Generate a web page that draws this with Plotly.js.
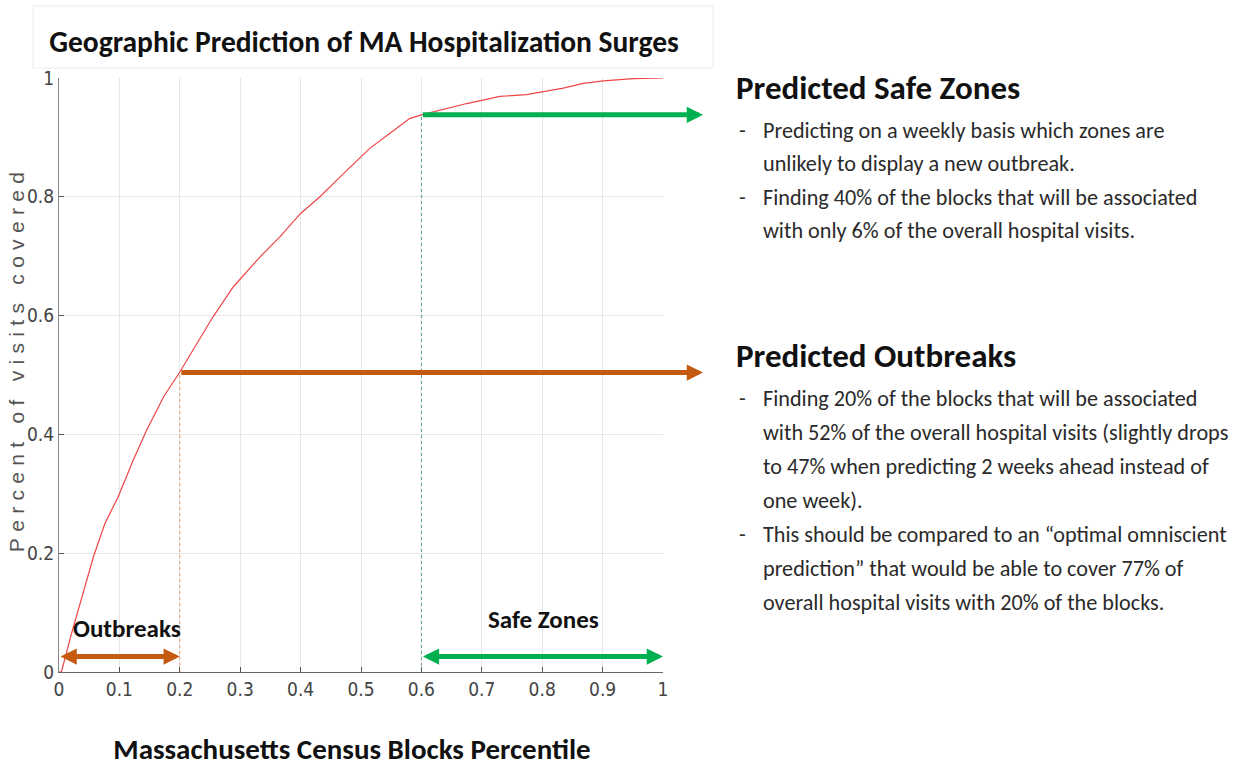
<!DOCTYPE html>
<html><head><meta charset="utf-8">
<script src="https://cdn.plot.ly/plotly-3.0.1.min.js"></script>
<style>
html,body{margin:0;padding:0;background:#fff;}
#chart{width:1243px;height:767px;}
.ytitle{letter-spacing:6.3px;}
</style></head><body><div id="chart"></div>
<script>
// ---- data ----
const blockPercentile = [0, 0.004, 0.02, 0.037, 0.057, 0.076, 0.098, 0.123, 0.145, 0.173, 0.2, 0.255, 0.289, 0.333, 0.366, 0.4, 0.432, 0.471, 0.515, 0.548, 0.581, 0.6, 0.628, 0.675, 0.73, 0.774, 0.802, 0.835, 0.868, 0.901, 0.951, 1.0];
const visitsCovered  = [0, 0.0, 0.062, 0.121, 0.194, 0.25, 0.295, 0.357, 0.407, 0.463, 0.505, 0.598, 0.649, 0.699, 0.733, 0.772, 0.80, 0.839, 0.882, 0.907, 0.932, 0.938, 0.945, 0.957, 0.969, 0.972, 0.977, 0.983, 0.991, 0.995, 0.999, 1.0];
const cutoffX = [0.2, 0.6];          // outbreaks cut, safe zones cut
const cutoffY = [0.504, 0.938];
const xTickVals = [0, 0.1, 0.2, 0.3, 0.4, 0.5, 0.6, 0.7, 0.8, 0.9, 1];
const xTickText = ['0', '0.1', '0.2', '0.3', '0.4', '0.5', '0.6', '0.7', '0.8', '0.9', '1'];
const yTickVals = [0, 0.2, 0.4, 0.6, 0.8, 1];
const yTickText = ['0', '0.2', '0.4', '0.6', '0.8', '1'];
const zoneLabels = ['Outbreaks', 'Safe Zones'];
const headers = ['Predicted Safe Zones', 'Predicted Outbreaks'];
const safeLines = ['Predicting on a weekly basis which zones are', 'unlikely to display a new outbreak.', 'Finding 40% of the blocks that will be associated', 'with only 6% of the overall hospital visits.'];
const safeBullets = [true, false, true, false];
const outbreakLines = ['Finding 20% of the blocks that will be associated', 'with 52% of the overall hospital visits (slightly drops', 'to 47% when predicting 2 weeks ahead instead of', 'one week).', 'This should be compared to an \u201coptimal omniscient', 'prediction\u201d that would be able to cover 77% of', 'overall hospital visits with 20% of the blocks.'];
const outbreakBullets = [true, false, false, false, true, false, false];

// ---- layout helpers (pixel -> paper) ----
const L = 59, R = 663, T = 78, B = 672;
const px2x = p => (p - L) / (R - L);
const py2y = p => (B - p) / (B - T);
const ORANGE = '#c55a11', GREEN = '#00b050';
const BODY = 'Carlito, Lato, "Open Sans", sans-serif';
const NARROW = '"Liberation Sans Narrow", "DejaVu Sans Condensed", "Liberation Sans", sans-serif';

const traces = [
  {x: blockPercentile, y: visitsCovered, type: 'scatter', mode: 'lines',
   line: {color: '#f04545', width: 1.2}, hoverinfo: 'skip'},
  {x: [cutoffX[0], cutoffX[0]], y: [0, cutoffY[0]], type: 'scatter', mode: 'lines',
   line: {color: '#f0a070', width: 1, dash: 'dot'}, hoverinfo: 'skip'},
  {x: [cutoffX[1], cutoffX[1]], y: [0, cutoffY[1]], type: 'scatter', mode: 'lines',
   line: {color: '#5f9ea3', width: 1, dash: 'dot'}, hoverinfo: 'skip'}
];

const arrowTip = px2x(703);
const ann = [];
function arrow(x0, y0, x1, y1, color, both) {
  ann.push({x: x1, y: y1, ax: x0, ay: y0, xref: 'x', yref: 'y', axref: 'x', ayref: 'y',
    text: '', showarrow: true, arrowhead: 2, arrowsize: 0.65, arrowwidth: 5, arrowcolor: color,
    arrowside: both ? 'end+start' : 'end', startarrowhead: 2, startarrowsize: 0.65, standoff: 0, startstandoff: 0});
}
arrow(cutoffX[0], cutoffY[0], arrowTip, cutoffY[0], ORANGE, false);
arrow(cutoffX[1], cutoffY[1], arrowTip, cutoffY[1], GREEN, false);
arrow(0, 0.026, cutoffX[0], 0.026, ORANGE, true);
arrow(cutoffX[1], 0.026, 1, 0.026, GREEN, true);

ann.push({x: px2x(127), y: py2y(628), xref: 'paper', yref: 'paper', text: zoneLabels[0], showarrow: false,
  font: {family: BODY, size: 25, color: '#111', weight: 'bold'}, xanchor: 'center', yanchor: 'middle'});
ann.push({x: px2x(543), y: py2y(619), xref: 'paper', yref: 'paper', text: zoneLabels[1], showarrow: false,
  font: {family: BODY, size: 25, color: '#111', weight: 'bold'}, xanchor: 'center', yanchor: 'middle'});

function header(txt, py) {
  ann.push({x: px2x(734), y: py2y(py), xref: 'paper', yref: 'paper', text: txt, showarrow: false,
    font: {family: BODY, size: 33, color: '#111', weight: 'bold'}, xanchor: 'left', yanchor: 'middle'});
}
function lines(arr, bullets, py0, step) {
  arr.forEach((t, i) => {
    const py = py0 + step * i;
    if (bullets[i]) ann.push({x: px2x(737), y: py2y(py), xref: 'paper', yref: 'paper', text: '-', showarrow: false,
      font: {family: BODY, size: 22, color: '#333'}, xanchor: 'left', yanchor: 'middle'});
    ann.push({x: px2x(761), y: py2y(py), xref: 'paper', yref: 'paper', text: t, showarrow: false,
      font: {family: BODY, size: 22.2, color: '#2a2a2a'}, xanchor: 'left', yanchor: 'middle'});
  });
}
header(headers[0], 88);
lines(safeLines, safeBullets, 130, 33.5);
header(headers[1], 356);
lines(outbreakLines, outbreakBullets, 398, 34.1);

const layout = {
  width: 1243, height: 767,
  margin: {l: L, r: 1243 - R, t: T, b: 767 - B},
  paper_bgcolor: '#fff', plot_bgcolor: '#fff',
  showlegend: false,
  title: {text: 'Geographic Prediction of MA Hospitalization Surges', xref: 'container', yref: 'container',
    x: 364 / 1243, y: 1 - 42 / 767, xanchor: 'center', yanchor: 'middle',
    font: {family: BODY, size: 29.5, color: '#111', weight: 'bold'}},
  xaxis: {range: [0, 1], tickvals: xTickVals, ticktext: xTickText, ticks: 'inside', ticklen: 5, tickcolor: '#555',
    showline: true, linecolor: '#666', linewidth: 1, showgrid: true, gridcolor: '#e6e6e6', zeroline: false,
    tickfont: {family: NARROW, size: 19, color: '#444'},
    title: {text: 'Massachusetts Census Blocks Percentile', standoff: 39,
      font: {family: BODY, size: 29, color: '#111', weight: 'bold'}}},
  yaxis: {range: [0, 1], tickvals: yTickVals, ticktext: yTickText, ticks: 'inside', ticklen: 5, tickcolor: '#555',
    showline: true, linecolor: '#888', linewidth: 1, showgrid: true, gridcolor: '#e6e6e6', zeroline: false,
    tickfont: {family: NARROW, size: 19, color: '#444'},
    title: {text: 'Percent of visits covered', standoff: 4,
      font: {family: '"Liberation Sans", Arial, sans-serif', size: 21, color: '#555'}}},
  shapes: [{type: 'rect', xref: 'paper', yref: 'paper', x0: px2x(33), x1: px2x(713), y0: py2y(68), y1: py2y(6),
    line: {color: '#ececec', width: 1}, fillcolor: 'rgba(0,0,0,0)', layer: 'below'}],
  annotations: ann
};

Plotly.newPlot('chart', traces, layout, {staticPlot: true, displayModeBar: false}).then(gd => {
  // place the axis titles where the reference has them
  const t = gd.querySelector('.ytitle');
  if (t) {
    const x = 21, y = 359;
    t.setAttribute('x', x);
    t.setAttribute('y', y);
    t.setAttribute('transform', 'rotate(-90,' + x + ',' + y + ')');
  }
  const xt = gd.querySelector('.xtitle');
  if (xt) xt.setAttribute('x', 352);
});
</script></body></html>
